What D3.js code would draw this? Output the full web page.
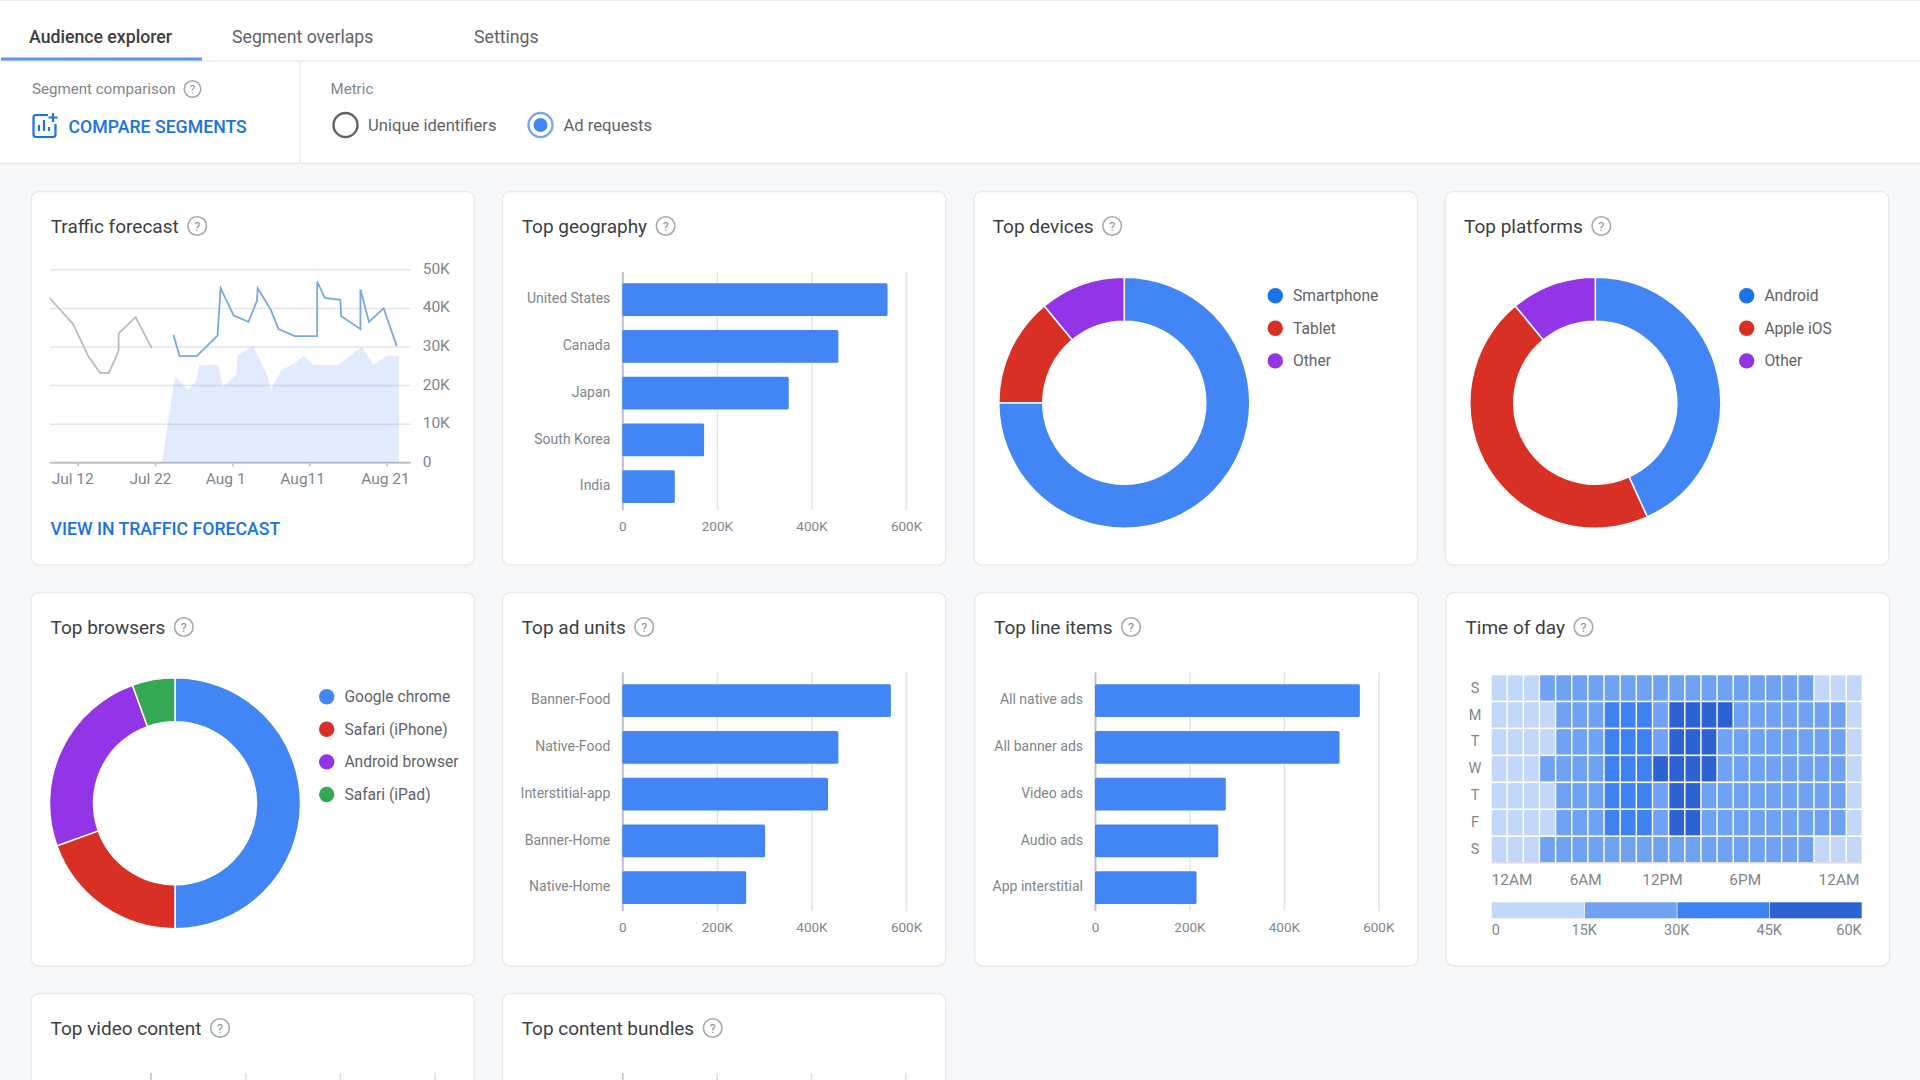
<!DOCTYPE html>
<html lang="en">
  <head>
    <meta charset="utf-8">
    <title>Audience explorer</title>
    <script type="text/javascript" src="https://d3js.org/d3.v7.min.js"></script>
    <style type="text/css">
    body {
      margin: 0;
      background: #f7f8fa;
      overflow: hidden;
    }
    svg {
      display: block;
      font-family: Roboto, sans-serif;
    }
    .title {
      font-size: 19px;
      fill: #3c4043;
    }
    .axis text {
      font-family: Roboto, sans-serif;
      font-size: 13.5px;
      fill: #80868b;
    }
    .axis line {
      stroke: #e3e5e8;
      stroke-width: 1.5px;
    }
    .axis .domain {
      display: none;
    }
    .legend {
      font-size: 15.6px;
      fill: #5f6368;
    }
    .link {
      font-size: 17.7px;
      font-weight: 500;
      fill: #1a73e8;
    }
    </style>
  </head>
  <body>
    <svg width="1920" height="1080" id="page"></svg>

    <script type="text/javascript">

// forecast chart, x is days since Jul 12
const trafficTicks = [0, 10000, 20000, 30000, 40000, 50000];
const trafficTickLabels = ["0", "10K", "20K", "30K", "40K", "50K"];
const dayTicks = [0, 10, 20, 30, 40];
const dayTickLabels = ["Jul 12", "Jul 22", "Aug 1", "Aug11", "Aug 21"];

const pastDays = [-3.6, -0.6, 1.4, 2.9, 4, 4.8, 5.3, 5.3, 7.5, 9.6];
const pastValues = [42500, 35800, 27400, 23200, 23100, 26500, 29100, 33400, 37600, 29500];

const forecastDays = [12.4, 13.2, 15.4, 18.1, 18.5, 20.2, 22.1, 23.2, 23.3, 25, 26, 28.1, 31, 31, 32, 34, 34.1, 36.6, 36.6, 37.7, 39.6, 41.3];
const forecastValues = [33000, 27500, 27500, 32800, 45100, 38000, 36400, 41800, 45100, 39500, 34500, 32700, 32700, 46800, 42600, 42100, 37900, 34500, 44800, 36400, 39900, 30100];

const areaDays = [10.9, 12.6, 14.3, 15.4, 15.7, 18.2, 18.8, 20.5, 20.7, 22.7, 23.6, 24.7, 25, 26.4, 28.1, 29.3, 30.5, 33.7, 36.8, 38.3, 40, 41.6, 41.6];
const areaValues = [0, 22200, 18600, 21300, 25200, 25200, 19600, 22600, 27800, 30000, 26500, 21800, 18700, 23900, 25700, 27600, 25200, 25200, 30000, 25200, 27600, 27600, 0];

// bar charts
const barTicks = [0, 200000, 400000, 600000];
const barTickLabels = ["0", "200K", "400K", "600K"];

const geoNames = ["United States", "Canada", "Japan", "South Korea", "India"];
const geoValues = [561000, 457000, 352000, 173000, 111000];

const adUnitNames = ["Banner-Food", "Native-Food", "Interstitial-app", "Banner-Home", "Native-Home"];
const adUnitValues = [568000, 457000, 435000, 302000, 262000];

const lineItemNames = ["All native ads", "All banner ads", "Video ads", "Audio ads", "App interstitial"];
const lineItemValues = [561000, 518000, 277000, 261000, 215000];

// donuts
const deviceNames = ["Smartphone", "Tablet", "Other"];
const deviceValues = [75, 14, 11];

const platformNames = ["Android", "Apple iOS", "Other"];
const platformValues = [43.2, 45.8, 11];

const browserNames = ["Google chrome", "Safari (iPhone)", "Android browser", "Safari (iPad)"];
const browserValues = [50, 19.5, 25, 5.5];

// time of day, thousands of requests per slot
const dayNames = ["S", "M", "T", "W", "T", "F", "S"];
const hourLabels = ["12AM", "6AM", "12PM", "6PM", "12AM"];
const heatTicks = [0, 15000, 30000, 45000, 60000];
const heatTickLabels = ["0", "15K", "30K", "45K", "60K"];
const heatValues = [
  [9, 9, 9, 22, 22, 22, 22, 22, 22, 22, 22, 22, 22, 22, 22, 22, 22, 22, 22, 22, 9, 9, 9],
  [9, 9, 9, 9, 22, 22, 22, 38, 38, 38, 22, 52, 52, 52, 52, 22, 22, 22, 22, 22, 22, 22, 9],
  [9, 9, 9, 9, 22, 22, 22, 38, 38, 38, 22, 52, 52, 52, 22, 22, 22, 22, 22, 22, 22, 22, 9],
  [9, 9, 9, 22, 22, 22, 22, 38, 38, 38, 52, 52, 52, 52, 22, 22, 22, 22, 22, 22, 22, 22, 9],
  [9, 9, 9, 9, 22, 22, 22, 38, 38, 38, 22, 52, 52, 22, 22, 22, 22, 22, 22, 22, 22, 22, 9],
  [9, 9, 9, 9, 22, 22, 22, 38, 38, 38, 22, 52, 52, 22, 22, 22, 22, 22, 22, 22, 22, 22, 9],
  [9, 9, 9, 22, 22, 22, 22, 22, 22, 22, 22, 22, 22, 22, 22, 22, 22, 22, 22, 22, 9, 9, 9]
];

const BLUE = "#4285f4";
const LEGEND_BLUE = "#1a73e8";
const RED = "#d93025";
const PURPLE = "#9334e6";
const GREEN = "#34a853";
const heatColors = ["#c3d7f9", "#70a2f3", "#3e81f0", "#2d62d3"];

const svg = d3.select("#page");

function helpIcon(x, y, r) {
  const g = svg.append("g").attr("transform", "translate(" + x + "," + y + ")");
  g.append("circle")
      .attr("r", r)
      .attr("fill", "none")
      .attr("stroke", "#a5a9ae")
      .attr("stroke-width", 1.6);
  g.append("text")
      .attr("text-anchor", "middle")
      .attr("dy", "0.36em")
      .attr("font-size", r * 1.35)
      .attr("fill", "#8d9196")
      .text("?");
}

function card(x, y, w, h, title, titleX, titleY) {
  svg.append("rect")
      .attr("x", x)
      .attr("y", y)
      .attr("width", w)
      .attr("height", h)
      .attr("rx", 8)
      .attr("fill", "#fff")
      .attr("stroke", "#e8eaed")
      .attr("stroke-width", 1.5);
  const label = svg.append("text")
      .attr("class", "title")
      .attr("x", titleX)
      .attr("y", titleY)
      .attr("dy", "0.35em")
      .text(title);
  helpIcon(titleX + label.node().getComputedTextLength() + 18.5, titleY, 9.3);
}

function barChart(x0, x600, top, bottom, bandTop, names, values) {
  const xScale = d3.scaleLinear().domain([0, 600000]).range([x0, x600]);
  const yScale = d3.scaleBand()
      .domain(names)
      .range([bandTop, bottom])
      .paddingInner(0.3)
      .paddingOuter(0.15);

  const bottomAxis = d3.axisBottom(xScale)
      .tickValues(barTicks)
      .tickFormat((d, i) => barTickLabels[i])
      .tickSizeInner(-(bottom - top))
      .tickSizeOuter(0)
      .tickPadding(11);

  const gx = svg.append("g")
      .attr("class", "axis")
      .attr("transform", "translate(0," + bottom + ")")
      .call(bottomAxis);
  gx.selectAll("line").filter(d => d === 0).style("stroke", "#bdc1c6").style("stroke-width", "2px");

  svg.append("g")
      .attr("class", "axis")
      .attr("transform", "translate(" + x0 + ",0)")
      .call(d3.axisLeft(yScale).tickSize(0).tickPadding(12))
      .selectAll("text")
      .attr("y", -0.7)
      .style("font-size", "14px");

  svg.selectAll(null)
      .data(names)
      .enter()
      .append("rect")
      .attr("x", x0)
      .attr("y", d => yScale(d))
      .attr("width", (d, i) => xScale(values[i]) - x0)
      .attr("height", yScale.bandwidth())
      .attr("rx", 1.5)
      .attr("fill", BLUE);
}

function donut(cx, cy, legendX, legendY, names, values, colors, legendColors) {
  const pie = d3.pie().sort(null);
  const arc = d3.arc().innerRadius(81.5).outerRadius(125.5);

  svg.append("g")
      .attr("transform", "translate(" + cx + "," + cy + ")")
      .selectAll("path")
      .data(pie(values))
      .enter()
      .append("path")
      .attr("d", arc)
      .attr("fill", (d, i) => colors[i])
      .attr("stroke", "#fff")
      .attr("stroke-width", 1.5);

  const legend = svg.selectAll(null)
      .data(names)
      .enter()
      .append("g")
      .attr("transform", (d, i) => "translate(" + legendX + "," + (legendY + i * 32.6) + ")");
  legend.append("circle")
      .attr("r", 7.7)
      .attr("fill", (d, i) => legendColors[i]);
  legend.append("text")
      .attr("class", "legend")
      .attr("x", 17.7)
      .attr("dy", "0.35em")
      .text(d => d);
}

// header
svg.append("rect").attr("width", 1920).attr("height", 163).attr("fill", "#fff");
svg.append("line").attr("x1", 0).attr("x2", 1920).attr("y1", 0.5).attr("y2", 0.5).attr("stroke", "#e8eaed");
svg.append("line").attr("x1", 0).attr("x2", 1920).attr("y1", 61).attr("y2", 61).attr("stroke", "#e8eaed").attr("stroke-width", 1.5);
svg.append("line").attr("x1", 0).attr("x2", 1920).attr("y1", 163.5).attr("y2", 163.5).attr("stroke", "#e8eaed").attr("stroke-width", 1.5);
svg.append("line").attr("x1", 300).attr("x2", 300).attr("y1", 61).attr("y2", 163).attr("stroke", "#e8eaed").attr("stroke-width", 1.5);
svg.append("rect").attr("x", 1).attr("y", 57.5).attr("width", 201).attr("height", 3).attr("fill", "#5f94e8");

svg.append("text").attr("x", 29).attr("y", 37).attr("dy", "0.35em")
    .attr("font-size", 17.7).attr("font-weight", 500).attr("fill", "#3c4043").text("Audience explorer");
svg.append("text").attr("x", 232).attr("y", 37).attr("dy", "0.35em")
    .attr("font-size", 17.7).attr("fill", "#5f6368").text("Segment overlaps");
svg.append("text").attr("x", 474).attr("y", 37).attr("dy", "0.35em")
    .attr("font-size", 17.7).attr("fill", "#5f6368").text("Settings");

svg.append("text").attr("x", 32).attr("y", 89).attr("dy", "0.35em")
    .attr("font-size", 15.1).attr("fill", "#80868b").text("Segment comparison");
helpIcon(192.5, 89, 8.3);
svg.append("text").attr("x", 330.5).attr("y", 89).attr("dy", "0.35em")
    .attr("font-size", 15.1).attr("fill", "#80868b").text("Metric");

svg.append("path")
    .attr("d", "M48 115H36a2.5 2.5 0 0 0-2.5 2.5v17a2.5 2.5 0 0 0 2.5 2.5h17a2.5 2.5 0 0 0 2.5-2.5V124")
    .attr("fill", "none").attr("stroke", LEGEND_BLUE).attr("stroke-width", 2.2);
svg.append("path")
    .attr("d", "M39 131v-6M44 131v-11M49 131v-4M53 113v9M48.5 117.500h9")
    .attr("fill", "none").attr("stroke", LEGEND_BLUE).attr("stroke-width", 2.2);
svg.append("text").attr("class", "link").attr("x", 68.5).attr("y", 126.500).attr("dy", "0.35em").text("COMPARE SEGMENTS");

svg.append("circle").attr("cx", 345.5).attr("cy", 125).attr("r", 12)
    .attr("fill", "none").attr("stroke", "#5f6368").attr("stroke-width", 2.4);
svg.append("text").attr("x", 368).attr("y", 125).attr("dy", "0.35em")
    .attr("font-size", 16.6).attr("fill", "#5f6368").text("Unique identifiers");
svg.append("circle").attr("cx", 540.5).attr("cy", 125).attr("r", 12)
    .attr("fill", "none").attr("stroke", "#76a5f5").attr("stroke-width", 2.4);
svg.append("circle").attr("cx", 540.5).attr("cy", 125).attr("r", 7).attr("fill", BLUE);
svg.append("text").attr("x", 563.5).attr("y", 125).attr("dy", "0.35em")
    .attr("font-size", 16.6).attr("fill", "#5f6368").text("Ad requests");

// cards
const cardW = 443.5;
const cardH = 373.5;
card(31, 191.5, cardW, cardH, "Traffic forecast", 50.7, 226);
card(502.3, 191.5, cardW, cardH, "Top geography", 521.7, 226);
card(974, 191.5, cardW, cardH, "Top devices", 992.7, 226);
card(1445.3, 191.5, cardW, cardH, "Top platforms", 1464, 226);
card(31, 592.5, cardW, cardH, "Top browsers", 50.5, 627);
card(502.3, 592.5, cardW, cardH, "Top ad units", 521.7, 627);
card(974.7, 592.5, cardW, cardH, "Top line items", 994, 627);
card(1446, 592.5, cardW, cardH, "Time of day", 1465.5, 627);
card(31, 993.5, cardW, 130, "Top video content", 50.5, 1028);
card(502.3, 993.5, cardW, 130, "Top content bundles", 521.7, 1028);

// traffic forecast
const trafficX = d3.scaleLinear().domain([0, 40]).range([77.7, 386.7]);
const trafficY = d3.scaleLinear().domain([0, 50000]).range([462.3, 269.3]);

const rightAxis = d3.axisRight(trafficY)
    .tickValues(trafficTicks)
    .tickFormat((d, i) => trafficTickLabels[i])
    .tickSizeInner(-360.7)
    .tickSizeOuter(0)
    .tickPadding(12);
const gy = svg.append("g")
    .attr("class", "axis")
    .attr("transform", "translate(410.7,0)")
    .call(rightAxis);
gy.selectAll("line").filter(d => d === 0).style("stroke", "#bdc1c6").style("stroke-width", "2px");
gy.selectAll("text").attr("y", -1).style("font-size", "15.5px");

const trafficAxis = d3.axisBottom(trafficX)
    .tickValues(dayTicks)
    .tickFormat((d, i) => dayTickLabels[i])
    .tickSizeInner(4)
    .tickSizeOuter(0)
    .tickPadding(7);
const dayNudge = [-5.5, -5, -7, -7.3, -1.7];
const gd = svg.append("g")
    .attr("class", "axis")
    .attr("transform", "translate(0,462.3)")
    .call(trafficAxis);
gd.selectAll("line").style("stroke", "#bdc1c6");
gd.selectAll("text").attr("dx", (d, i) => dayNudge[i]).style("font-size", "15.5px");

const areaGen = d3.area()
    .x(d => trafficX(d[0]))
    .y0(trafficY(0))
    .y1(d => trafficY(d[1]));
svg.append("path")
    .attr("d", areaGen(areaDays.map((d, i) => [d, areaValues[i]])))
    .attr("fill", BLUE)
    .attr("opacity", 0.16);

const lineGen = d3.line()
    .x(d => trafficX(d[0]))
    .y(d => trafficY(d[1]));
svg.append("path")
    .attr("d", lineGen(pastDays.map((d, i) => [d, pastValues[i]])))
    .attr("fill", "none")
    .attr("stroke", "#b9bbbe")
    .attr("stroke-width", 1.8);
svg.append("path")
    .attr("d", lineGen(forecastDays.map((d, i) => [d, forecastValues[i]])))
    .attr("fill", "none")
    .attr("stroke", "#7aa6ea")
    .attr("stroke-width", 1.8);

svg.append("text").attr("class", "link").attr("x", 50.5).attr("y", 529).attr("dy", "0.35em").text("VIEW IN TRAFFIC FORECAST");

// bars
barChart(622.3, 906, 272, 510, 276.3, geoNames, geoValues);
barChart(622.3, 906, 672.3, 911, 677.3, adUnitNames, adUnitValues);
barChart(1095, 1378.3, 672.3, 911, 677.3, lineItemNames, lineItemValues);

// donuts
donut(1124.3, 402.7, 1275.3, 295.7, deviceNames, deviceValues, [BLUE, RED, PURPLE], [LEGEND_BLUE, RED, PURPLE]);
donut(1595.3, 402.7, 1746.7, 295.7, platformNames, platformValues, [BLUE, RED, PURPLE], [LEGEND_BLUE, RED, PURPLE]);
donut(175, 803.3, 326.7, 696.7, browserNames, browserValues, [BLUE, RED, PURPLE, GREEN], [BLUE, RED, PURPLE, GREEN]);

// time of day
const heatCols = d3.range(heatValues[0].length);
const heatX = d3.scaleBand().domain(heatCols).range([1491.7, 1861.7]).paddingInner(0.09);
const heatY = d3.scaleBand().domain(d3.range(dayNames.length)).range([675.3, 862.3]).paddingInner(0.06);
const heatColor = d3.scaleThreshold().domain([15, 30, 45]).range(heatColors);

svg.selectAll(null)
    .data(heatValues)
    .enter()
    .append("g")
    .attr("transform", (d, i) => "translate(0," + heatY(i) + ")")
    .selectAll("rect")
    .data(d => d)
    .enter()
    .append("rect")
    .attr("x", (d, i) => heatX(i))
    .attr("width", heatX.bandwidth())
    .attr("height", heatY.bandwidth())
    .attr("fill", d => heatColor(d));

svg.append("g")
    .attr("class", "axis")
    .attr("transform", "translate(1475,0)")
    .call(d3.axisLeft(heatY).tickFormat(i => dayNames[i]).tickSize(0).tickPadding(0))
    .selectAll("text")
    .style("text-anchor", "middle")
    .style("font-size", "14.5px");

svg.append("line")
    .attr("x1", 1491.7).attr("x2", 1861.7).attr("y1", 862.8).attr("y2", 862.8)
    .attr("stroke", "#dadce0").attr("stroke-width", 1.5);

const hourX = d3.scaleLinear().domain([0, 24]).range([1512, 1839]);
const hourNudge = [0, -8, -13, -12, 0];
svg.selectAll(null)
    .data(hourLabels)
    .enter()
    .append("text")
    .attr("x", (d, i) => hourX(i * 6) + hourNudge[i])
    .attr("y", 880)
    .attr("dy", "0.35em")
    .attr("text-anchor", "middle")
    .attr("font-size", 15.4)
    .attr("fill", "#80868b")
    .text(d => d);

const rampX = d3.scaleLinear().domain([0, 60000]).range([1491.7, 1861.7]);
svg.selectAll(null)
    .data(heatColors)
    .enter()
    .append("rect")
    .attr("x", (d, i) => rampX(heatTicks[i]) + (i ? 0.7 : 0))
    .attr("y", 902.3)
    .attr("width", (d, i) => rampX(heatTicks[i + 1]) - rampX(heatTicks[i]) - (i ? 0.7 : 0))
    .attr("height", 16)
    .attr("fill", d => d);

svg.selectAll(null)
    .data(heatTicks)
    .enter()
    .append("text")
    .attr("x", d => rampX(d))
    .attr("y", 929.5)
    .attr("dy", "0.35em")
    .attr("text-anchor", (d, i) => i === 0 ? "start" : i === heatTicks.length - 1 ? "end" : "middle")
    .attr("font-size", 14.5)
    .attr("fill", "#80868b")
    .text((d, i) => heatTickLabels[i]);

// bottom row, only the tops of the grids are in view
[[151, 435], [622.8, 906]].forEach(r => {
  const gridX = d3.scaleLinear().domain([0, 600000]).range(r);
  svg.append("g")
      .selectAll("line")
      .data(barTicks)
      .enter()
      .append("line")
      .attr("x1", d => gridX(d))
      .attr("x2", d => gridX(d))
      .attr("y1", 1073)
      .attr("y2", 1080)
      .attr("stroke", d => d === 0 ? "#bdc1c6" : "#dfe1e5")
      .attr("stroke-width", 1.5);
});

    </script>
  </body>
</html>
